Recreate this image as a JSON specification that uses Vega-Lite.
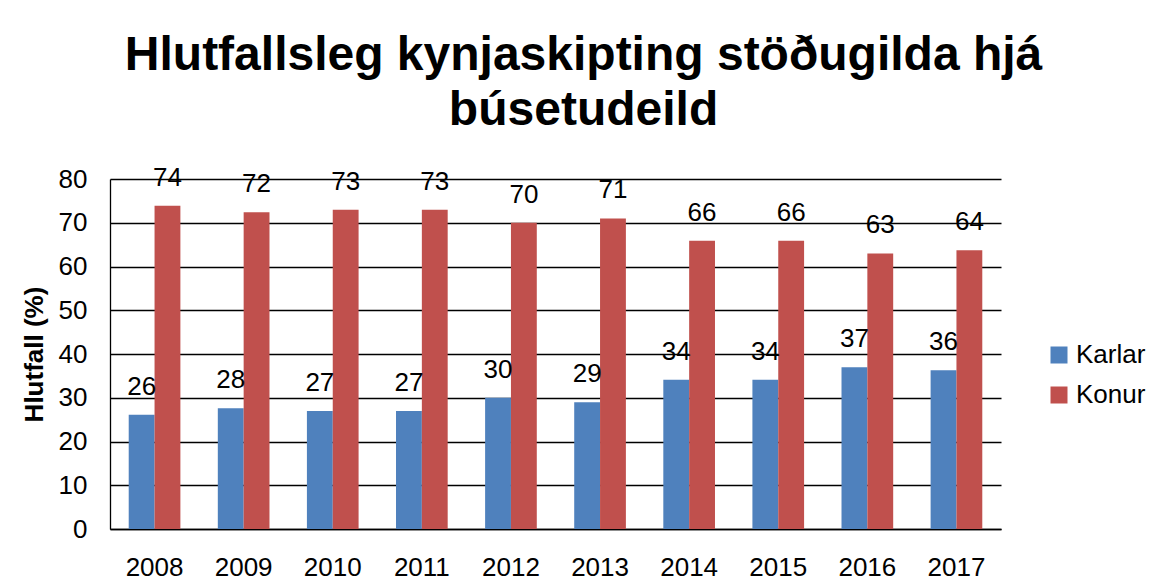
{
  "$schema": "https://vega.github.io/schema/vega-lite/v6.json",
  "width": 891,
  "height": 350,
  "autosize": {"type": "none"},
  "padding": {"left": 110, "top": 179, "right": 160, "bottom": 54},
  "background": "white",
  "title": {
    "text": ["Hlutfallsleg kynjaskipting stöðugilda hjá", "búsetudeild"],
    "font": "Liberation Sans",
    "fontSize": 48,
    "fontWeight": "bold",
    "color": "black",
    "lineHeight": 55,
    "anchor": "middle",
    "frame": "bounds",
    "offset": 30
  },
  "data": {
    "values": [
      {"ar": "2008", "kyn": "Karlar", "hlutfall": 26.1},
      {"ar": "2008", "kyn": "Konur", "hlutfall": 73.9},
      {"ar": "2009", "kyn": "Karlar", "hlutfall": 27.6},
      {"ar": "2009", "kyn": "Konur", "hlutfall": 72.4},
      {"ar": "2010", "kyn": "Karlar", "hlutfall": 27.0},
      {"ar": "2010", "kyn": "Konur", "hlutfall": 73.0},
      {"ar": "2011", "kyn": "Karlar", "hlutfall": 27.0},
      {"ar": "2011", "kyn": "Konur", "hlutfall": 73.0},
      {"ar": "2012", "kyn": "Karlar", "hlutfall": 30.0},
      {"ar": "2012", "kyn": "Konur", "hlutfall": 70.0},
      {"ar": "2013", "kyn": "Karlar", "hlutfall": 29.0},
      {"ar": "2013", "kyn": "Konur", "hlutfall": 71.0},
      {"ar": "2014", "kyn": "Karlar", "hlutfall": 34.1},
      {"ar": "2014", "kyn": "Konur", "hlutfall": 65.9},
      {"ar": "2015", "kyn": "Karlar", "hlutfall": 34.1},
      {"ar": "2015", "kyn": "Konur", "hlutfall": 65.9},
      {"ar": "2016", "kyn": "Karlar", "hlutfall": 37.0},
      {"ar": "2016", "kyn": "Konur", "hlutfall": 63.0},
      {"ar": "2017", "kyn": "Karlar", "hlutfall": 36.3},
      {"ar": "2017", "kyn": "Konur", "hlutfall": 63.7}
    ]
  },
  "encoding": {
    "x": {
      "field": "ar",
      "type": "nominal",
      "scale": {"paddingInner": 0.42, "paddingOuter": 0.21},
      "axis": {
        "title": null,
        "labelAngle": 0,
        "labelFont": "Liberation Sans",
        "labelFontSize": 26,
        "labelColor": "black",
        "labelPadding": 25,
        "ticks": false,
        "domainColor": "black",
        "domainWidth": 1.3
      }
    },
    "xOffset": {"field": "kyn", "type": "nominal", "scale": {"paddingInner": 0, "paddingOuter": 0}},
    "y": {
      "field": "hlutfall",
      "type": "quantitative",
      "scale": {"domain": [0, 80], "nice": false},
      "axis": {
        "title": "Hlutfall (%)",
        "titleFont": "Liberation Sans",
        "titleFontSize": 26,
        "titleFontWeight": "bold",
        "titleColor": "black",
        "titlePadding": 11,
        "values": [0, 10, 20, 30, 40, 50, 60, 70, 80],
        "labelFont": "Liberation Sans",
        "labelFontSize": 26,
        "labelColor": "black",
        "labelPadding": 23,
        "ticks": false,
        "domainColor": "black",
        "domainWidth": 1.3,
        "gridColor": "black",
        "gridWidth": 1.3,
        "gridOpacity": 1
      }
    }
  },
  "layer": [
    {
      "mark": {"type": "bar"},
      "encoding": {
        "color": {
          "field": "kyn",
          "type": "nominal",
          "scale": {"domain": ["Karlar", "Konur"], "range": ["#4F81BD", "#C0504D"]},
          "legend": {
            "title": null,
            "orient": "none",
            "legendX": 936,
            "legendY": 163,
            "symbolType": "square",
            "symbolSize": 289,
            "symbolStrokeWidth": 0,
            "symbolOpacity": 1,
            "labelFont": "Liberation Sans",
            "labelFontSize": 26,
            "labelColor": "black",
            "labelOffset": 4,
            "rowPadding": 14,
            "padding": 0
          }
        }
      }
    },
    {
      "mark": {"type": "text", "font": "Liberation Sans", "fontSize": 26, "color": "black", "baseline": "alphabetic", "dy": -20},
      "encoding": {
        "text": {"field": "hlutfall", "type": "quantitative", "format": ".0f"}
      }
    }
  ],
  "config": {
    "view": {"stroke": null}
  }
}
